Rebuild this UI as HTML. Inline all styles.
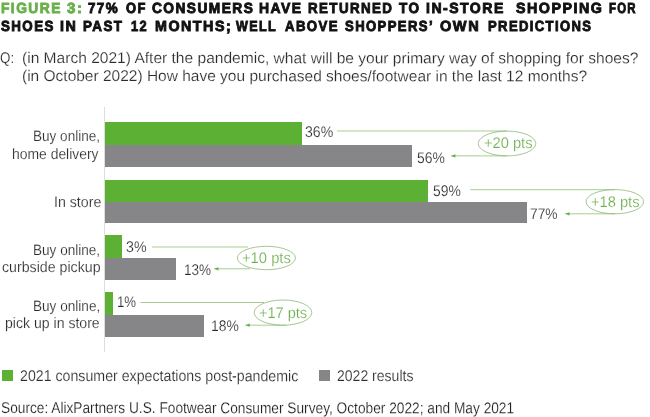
<!DOCTYPE html>
<html><head><meta charset="utf-8">
<style>
html,body{margin:0;padding:0;background:#fff;}
body{width:650px;height:417px;position:relative;overflow:hidden;font-family:"Liberation Sans",sans-serif;color:#333;}
.t{position:absolute;white-space:nowrap;line-height:1;transform-origin:0 0;}
.title{font-weight:bold;letter-spacing:1.55px;color:#111;-webkit-text-stroke:0.9px #111;}
.title.g{color:#6ab04a;-webkit-text-stroke:0.9px #6ab04a;}
.q,.lab,.val,.leg,.src,.pts{-webkit-text-stroke:0.18px #fff;}
.q{color:#2b2b2b;}
.lab{color:#2b2b2b;}
.val{color:#2b2b2b;}
.pts{color:#6ab04a;}
.bar{position:absolute;}
.gr{background:#5cb135;}
.gy{background:#868688;}
.leg{color:#2b2b2b;}
.src{color:#1c1c1c;}
svg{position:absolute;left:0;top:0;}
</style></head><body>
<div class="t title g" style="left:0.94px;top:1px;font-size:14.7px;transform:scaleX(0.9385) rotate(0.03deg);">FIGURE</div>
<div class="t title g" style="left:66.95px;top:1px;font-size:14.7px;transform:scaleX(1.0269) rotate(0.03deg);">3:</div>
<div class="t title" style="left:88.43px;top:1px;font-size:14.7px;transform:scaleX(0.9128) rotate(0.03deg);">77%</div>
<div class="t title" style="left:126.31px;top:1px;font-size:14.7px;transform:scaleX(0.8803) rotate(0.03deg);">OF</div>
<div class="t title" style="left:152.08px;top:1px;font-size:14.7px;transform:scaleX(0.9346) rotate(0.03deg);">CONSUMERS</div>
<div class="t title" style="left:259.26px;top:1px;font-size:14.7px;transform:scaleX(0.9496) rotate(0.03deg);">HAVE</div>
<div class="t title" style="left:308.0px;top:1px;font-size:14.7px;transform:scaleX(0.9085) rotate(0.03deg);">RETURNED</div>
<div class="t title" style="left:398.58px;top:1px;font-size:14.7px;transform:scaleX(0.9205) rotate(0.03deg);">TO</div>
<div class="t title" style="left:426.17px;top:1px;font-size:14.7px;transform:scaleX(0.9568) rotate(0.03deg);">IN-STORE</div>
<div class="t title" style="left:516.01px;top:1px;font-size:14.7px;transform:scaleX(0.972) rotate(0.03deg);">SHOPPING</div>
<div class="t title" style="left:608.55px;top:1px;font-size:14.7px;transform:scaleX(0.7774) rotate(0.03deg);">FOR</div>
<div class="t title" style="left:0.95px;top:19px;font-size:14.7px;transform:scaleX(0.9088) rotate(0.03deg);">SHOES</div>
<div class="t title" style="left:60.07px;top:19px;font-size:14.7px;transform:scaleX(0.9735) rotate(0.03deg);">IN</div>
<div class="t title" style="left:83.17px;top:19px;font-size:14.7px;transform:scaleX(0.9107) rotate(0.03deg);">PAST</div>
<div class="t title" style="left:130.89px;top:19px;font-size:14.7px;transform:scaleX(0.8718) rotate(0.03deg);">12</div>
<div class="t title" style="left:154.7px;top:19px;font-size:14.7px;transform:scaleX(0.9723) rotate(0.03deg);">MONTHS;</div>
<div class="t title" style="left:236.15px;top:19px;font-size:14.7px;transform:scaleX(0.8556) rotate(0.03deg);">WELL</div>
<div class="t title" style="left:284.75px;top:19px;font-size:14.7px;transform:scaleX(0.8981) rotate(0.03deg);">ABOVE</div>
<div class="t title" style="left:345.05px;top:19px;font-size:14.7px;transform:scaleX(0.8929) rotate(0.03deg);">SHOPPERS’</div>
<div class="t title" style="left:440.14px;top:19px;font-size:14.7px;transform:scaleX(0.9925) rotate(0.03deg);">OWN</div>
<div class="t title" style="left:488.28px;top:19px;font-size:14.7px;transform:scaleX(0.8891) rotate(0.03deg);">PREDICTIONS</div>
<div class="t q" style="left:0.2px;top:50px;font-size:15.4px;transform:scaleX(0.8676) rotate(0.03deg);">Q:</div>
<div class="t q" style="left:21.8px;top:50px;font-size:15.4px;transform:scaleX(1.0106) rotate(0.03deg);">(in March 2021) After the pandemic, what will be your primary way of shopping for shoes?</div>
<div class="t q" style="left:21.8px;top:68px;font-size:15.4px;transform:scaleX(1.0069) rotate(0.03deg);">(in October 2022) How have you purchased shoes/footwear in the last 12 months?</div>
<div class="t lab" style="left:33.3px;top:128px;font-size:15.1px;transform:scaleX(0.8974) rotate(0.03deg);">Buy online,</div>
<div class="t lab" style="left:12.4px;top:146px;font-size:15.1px;transform:scaleX(0.9214) rotate(0.03deg);">home delivery</div>
<div class="t lab" style="left:53.5px;top:194px;font-size:15.1px;transform:scaleX(0.9395) rotate(0.03deg);">In store</div>
<div class="t lab" style="left:33.3px;top:242px;font-size:15.1px;transform:scaleX(0.8986) rotate(0.03deg);">Buy online,</div>
<div class="t lab" style="left:2px;top:259px;font-size:15.1px;transform:scaleX(0.9398) rotate(0.03deg);">curbside pickup</div>
<div class="t lab" style="left:32.88px;top:298px;font-size:15.1px;transform:scaleX(0.9003) rotate(0.03deg);">Buy online,</div>
<div class="t lab" style="left:5.4px;top:315px;font-size:15.1px;transform:scaleX(0.9328) rotate(0.03deg);">pick up in store</div>
<div class="t val" style="left:305.4px;top:124px;font-size:15.4px;transform:scaleX(0.9138) rotate(0.03deg);">36%</div>
<div class="t val" style="left:416.6px;top:150px;font-size:15.4px;transform:scaleX(0.9018) rotate(0.03deg);">56%</div>
<div class="t val" style="left:433px;top:183px;font-size:15.4px;transform:scaleX(0.9025) rotate(0.03deg);">59%</div>
<div class="t val" style="left:530.37px;top:206px;font-size:15.4px;transform:scaleX(0.8936) rotate(0.03deg);">77%</div>
<div class="t val" style="left:126.4px;top:239px;font-size:15.4px;transform:scaleX(0.9217) rotate(0.03deg);">3%</div>
<div class="t val" style="left:183.92px;top:262px;font-size:15.4px;transform:scaleX(0.8787) rotate(0.03deg);">13%</div>
<div class="t val" style="left:116.78px;top:294px;font-size:15.4px;transform:scaleX(0.8584) rotate(0.03deg);">1%</div>
<div class="t val" style="left:210.9px;top:318px;font-size:15.4px;transform:scaleX(0.9003) rotate(0.03deg);">18%</div>
<div class="t pts" style="left:483.62px;top:135px;font-size:15.3px;transform:scaleX(0.9579) rotate(0.03deg);">+20 pts</div>
<div class="t pts" style="left:590.62px;top:194px;font-size:15.3px;transform:scaleX(0.9579) rotate(0.03deg);">+18 pts</div>
<div class="t pts" style="left:241.82px;top:250px;font-size:15.3px;transform:scaleX(0.9654) rotate(0.03deg);">+10 pts</div>
<div class="t pts" style="left:258.62px;top:305px;font-size:15.3px;transform:scaleX(0.9512) rotate(0.03deg);">+17 pts</div>
<div class="t leg" style="left:20px;top:368px;font-size:15.6px;transform:scaleX(0.9096) rotate(0.03deg);">2021 consumer expectations post-pandemic</div>
<div class="t leg" style="left:337px;top:368px;font-size:15.6px;transform:scaleX(0.9002) rotate(0.03deg);">2022 results</div>
<div class="t src" style="left:0.85px;top:400px;font-size:15.6px;transform:scaleX(0.8788) rotate(0.03deg);">Source: AlixPartners U.S. Footwear Consumer Survey, October 2022; and May 2021</div>
<div class="bar" style="left:104px;top:106.6px;width:1.1px;height:245.4px;background:#dedede;"></div>
<div class="bar gr" style="left:105px;top:122px;width:196.5px;height:22.5px;"></div>
<div class="bar gy" style="left:105px;top:144.5px;width:307px;height:22.3px;"></div>
<div class="bar gr" style="left:105px;top:179.5px;width:322.7px;height:22.3px;"></div>
<div class="bar gy" style="left:105px;top:201.8px;width:422px;height:21.7px;"></div>
<div class="bar gr" style="left:105px;top:235.2px;width:17.1px;height:22.6px;"></div>
<div class="bar gy" style="left:105px;top:257.8px;width:71.3px;height:22.2px;"></div>
<div class="bar gr" style="left:105px;top:292px;width:7.8px;height:22.5px;"></div>
<div class="bar gy" style="left:105px;top:314.5px;width:99px;height:22px;"></div>
<svg width="650" height="417" viewBox="0 0 650 417">
<g fill="none" stroke="#9bc983" stroke-width="0.9">
<path d="M337 131H507M507 155.9H455"/>
<path d="M470.3 189.7H615M615 213.8H569"/>
<path d="M152 247H248M250 268.8H218"/>
<path d="M140.6 302.5H264M286 325.2H249"/>
</g>
<g fill="none" stroke="#8fb87a" stroke-width="0.8">
<ellipse cx="507" cy="143.5" rx="28.8" ry="12.4"/>
<ellipse cx="614.8" cy="201.7" rx="28.8" ry="12.1"/>
<ellipse cx="266.4" cy="258" rx="29" ry="11.7"/>
<ellipse cx="283" cy="312.6" rx="28.8" ry="12.6"/>
</g>
<path fill="#6ab04a" d="M450.4 155.9l5-1.6v3.2zM564.6 213.8l5-1.6v3.2zM213.5 268.8l5-1.6v3.2zM244.8 325.2l5-1.6v3.2z"/>
</svg>
<div class="bar gr" style="left:1.7px;top:369.6px;width:11.2px;height:11.6px;"></div>
<div class="bar gy" style="left:318.7px;top:369.6px;width:11.6px;height:11.6px;"></div>
</body></html>
